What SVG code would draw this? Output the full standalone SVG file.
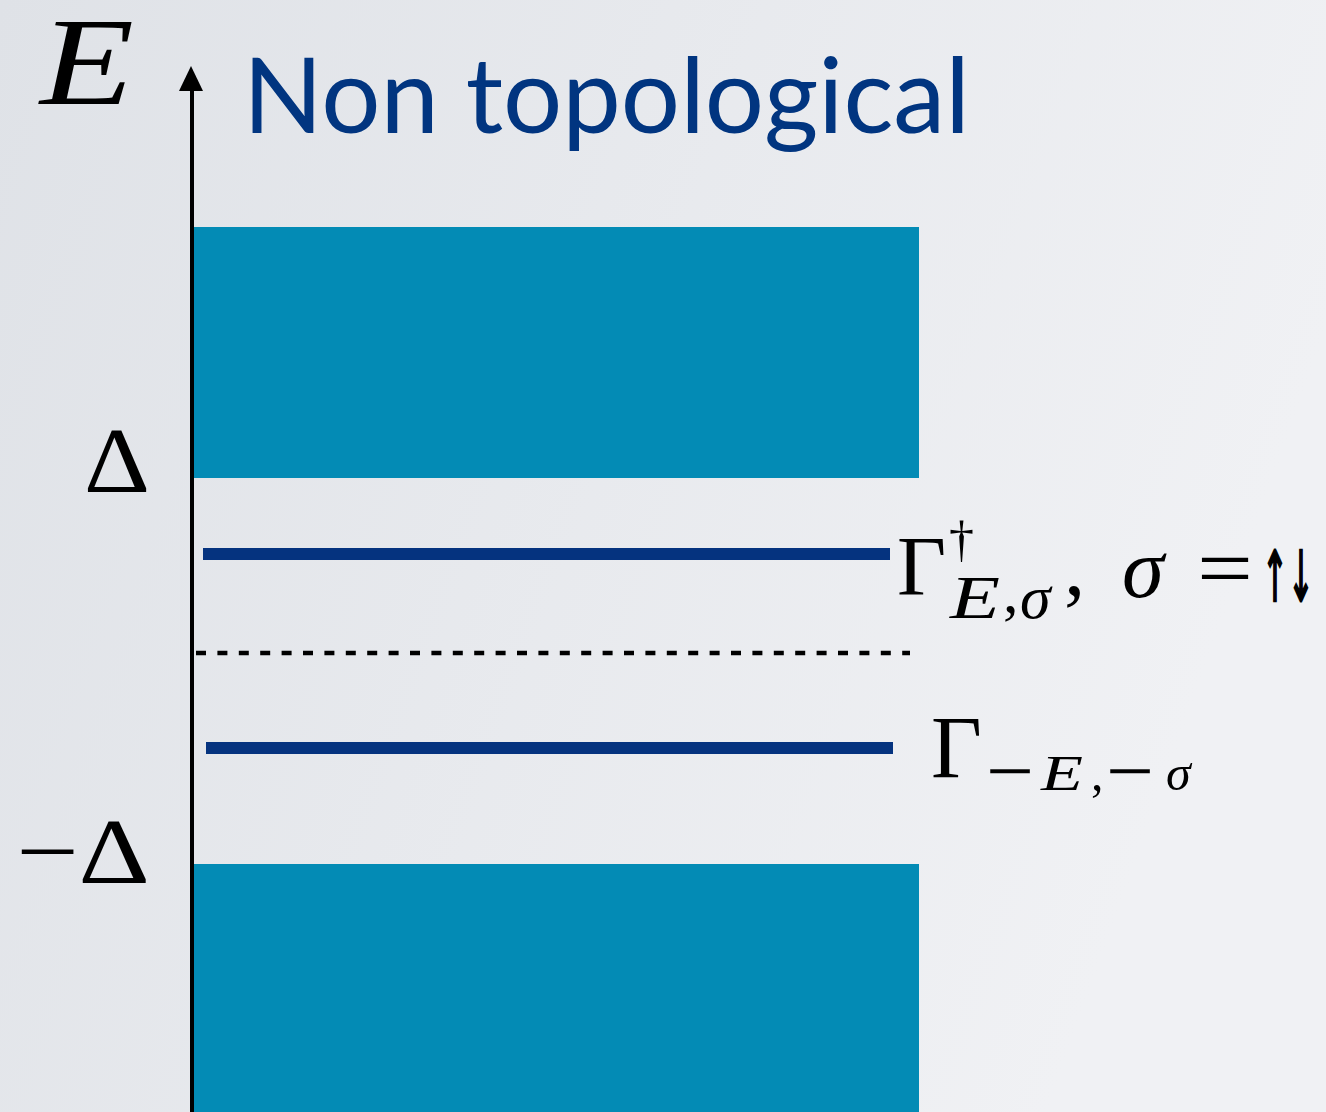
<svg xmlns="http://www.w3.org/2000/svg" width="1326" height="1112" viewBox="0 0 1326 1112">
<defs>
<linearGradient id="bg" x1="0" y1="0" x2="1" y2="0.3">
<stop offset="0" stop-color="#dfe2e7"/>
<stop offset="1" stop-color="#f0f1f4"/>
</linearGradient>
</defs>
<style>
.band{fill:#038bb5}
.lvl{stroke:#05337f;stroke-width:12;fill:none}
.math{font-family:"Liberation Serif","DejaVu Serif",serif;fill:#000}
.it{font-style:italic}
.title{font-family:Lato,"Open Sans",sans-serif;fill:#013580}
</style>
<rect width="1326" height="1112" fill="url(#bg)"/>
<g id="band-upper"><rect class="band" x="194" y="227" width="725" height="251"/></g>
<g id="band-lower"><rect class="band" x="194" y="864" width="725" height="248"/></g>
<g id="connectors">
<line x1="192" y1="1112" x2="192" y2="90" stroke="#000" stroke-width="4"/>
<path d="M179,91 L191,66 L203,91 Z" fill="#000"/>
<line x1="196" y1="653" x2="910" y2="653" stroke="#000" stroke-width="4.5" stroke-dasharray="10,11.4"/>
</g>
<g id="level-upper"><line class="lvl" x1="203" y1="554" x2="890" y2="554"/></g>
<g id="level-lower"><line class="lvl" x1="206" y1="748" x2="893" y2="748"/></g>
<g id="axis-label"><text class="math it" x="40" y="104" font-size="124" textLength="94" lengthAdjust="spacingAndGlyphs">E</text></g>
<g id="title"><text class="title" x="243" y="133" font-size="105" textLength="727" lengthAdjust="spacingAndGlyphs">Non topological</text></g>
<g id="delta-label"><text class="math" x="84" y="492" font-size="94" textLength="66" lengthAdjust="spacingAndGlyphs">Δ</text></g>
<g id="minus-delta-label"><text class="math" x="16" y="883" font-size="94" textLength="134" lengthAdjust="spacingAndGlyphs">−Δ</text></g>
<g id="label-upper">
<text class="math" x="897" y="595" font-size="85">Γ</text>
<text class="math" x="949" y="556" font-size="50">†</text>
<text class="math it" x="950" y="618" font-size="62" textLength="50" lengthAdjust="spacingAndGlyphs">E</text>
<text class="math" x="1003" y="612" font-size="62">,</text>
<text class="math it" x="1020" y="618" font-size="62">σ</text>
<text class="math" x="1064" y="595" font-size="85">,</text>
<text class="math it" x="1122" y="597" font-size="85">σ</text>
<text class="math" x="1197" y="597" font-size="85" textLength="56" lengthAdjust="spacingAndGlyphs">=</text>
<text x="1262" y="601" font-size="70" font-family="DejaVu Sans,sans-serif" stroke="#000" stroke-width="2.5" textLength="52" lengthAdjust="spacingAndGlyphs">↑↓</text>
</g>
<g id="label-lower">
<text class="math" x="931" y="777" font-size="88">Γ</text>
<text class="math" x="986" y="798" font-size="80" textLength="48" lengthAdjust="spacingAndGlyphs">−</text>
<text class="math it" x="1041" y="790" font-size="50" textLength="42" lengthAdjust="spacingAndGlyphs">E</text>
<text class="math" x="1091" y="790" font-size="50">,</text>
<text class="math" x="1106" y="798" font-size="80" textLength="48" lengthAdjust="spacingAndGlyphs">−</text>
<text class="math it" x="1166" y="790" font-size="50">σ</text>
</g>
</svg>
